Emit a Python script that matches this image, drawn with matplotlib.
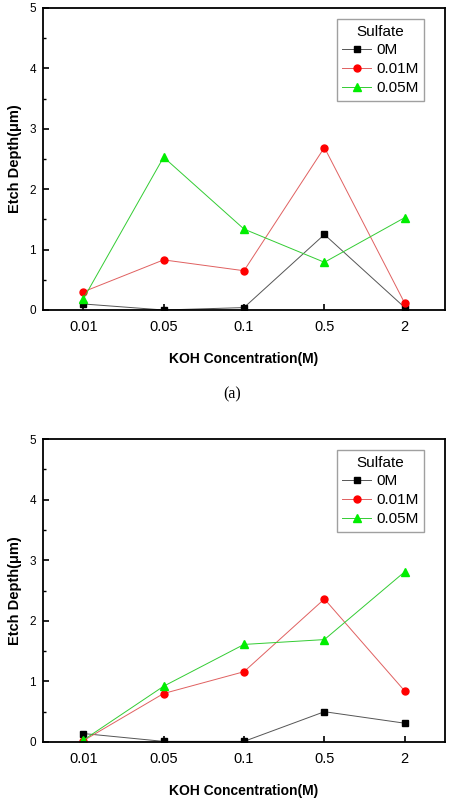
import matplotlib.pyplot as plt
import matplotlib.ticker as ticker

plt.rcParams['font.family'] = ['Liberation Sans', 'DejaVu Sans']

koh = ['0.01', '0.05', '0.1', '0.5', '2']

# (a)
a_0M = [0.10, 0.00, 0.04, 1.25, 0.04]
a_001M = [0.30, 0.83, 0.65, 2.69, 0.11]
a_005M = [0.18, 2.53, 1.34, 0.79, 1.53]

# (b)
b_0M = [0.14, 0.01, 0.01, 0.50, 0.31]
b_001M = [0.02, 0.80, 1.16, 2.36, 0.84]
b_005M = [0.03, 0.92, 1.61, 1.69, 2.81]

fig = plt.figure(figsize=(4.52, 8.10), dpi=100)


def draw(ax, s0, s1, s2):
    x = range(len(koh))
    ax.plot(x, s0, color='#555555', lw=0.7, marker='s', ms=4.5, mfc='black', mec='black', label='0M')
    ax.plot(x, s1, color='#e06060', lw=0.7, marker='o', ms=5, mfc='#ff0000', mec='#ff0000', label='0.01M')
    ax.plot(x, s2, color='#33cc33', lw=0.7, marker='^', ms=5.5, mfc='#00ee00', mec='#00ee00', label='0.05M')
    ax.set_xlim(-0.5, 4.5)
    ax.set_ylim(0, 5)
    ax.set_xticks(list(x))
    ax.set_xticklabels(koh, fontsize=10.5)
    ax.yaxis.set_major_locator(ticker.MultipleLocator(1))
    ax.yaxis.set_minor_locator(ticker.MultipleLocator(0.5))
    ax.tick_params(axis='both', direction='in', length=4, width=1.2)
    ax.tick_params(axis='y', which='minor', direction='in', length=2.5, width=1)
    ax.tick_params(axis='y', labelsize=8.5, pad=5)
    ax.tick_params(axis='x', pad=7)
    for sp in ax.spines.values():
        sp.set_linewidth(1.3)
    ax.set_xlabel('KOH Concentration(M)', fontsize=10, fontweight='bold', labelpad=13)
    ax.set_ylabel('Etch Depth(μm)', fontsize=10.5, fontweight='bold', labelpad=5)
    leg = ax.legend(title='Sulfate', loc='upper right', bbox_to_anchor=(0.947, 0.963),
                    fontsize=11, title_fontsize=11, frameon=True, fancybox=False,
                    handlelength=1.9, handletextpad=0.3, borderpad=0.35, labelspacing=0.32,
                    borderaxespad=0)
    leg.get_frame().set_edgecolor('#888888')
    leg.get_frame().set_linewidth(1)


ax1 = fig.add_axes([43 / 452, 1 - 310 / 810, 402 / 452, 302 / 810])
draw(ax1, a_0M, a_001M, a_005M)
ax2 = fig.add_axes([43 / 452, 1 - 742 / 810, 402 / 452, 303 / 810])
draw(ax2, b_0M, b_001M, b_005M)

fig.text(232 / 452, 1 - 394 / 810, '(a)', family='Liberation Serif', fontsize=11.5, ha='center', va='center')

fig.savefig('out.png', dpi=100)
